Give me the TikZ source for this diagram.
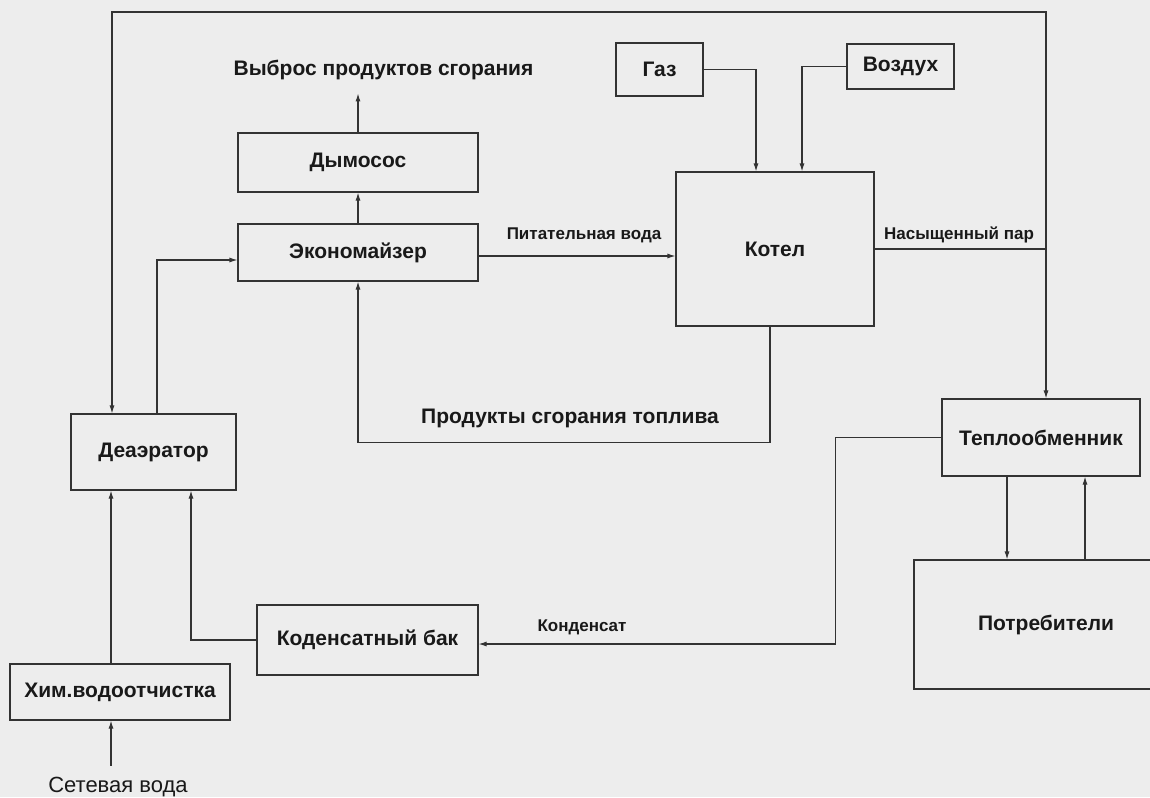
\documentclass[tikz,border=0pt]{standalone}
\usepackage{fontspec}
\setmainfont{Liberation Sans}
\usetikzlibrary{arrows.meta}
\begin{document}
\begin{tikzpicture}[x=1pt,y=-1pt,line width=1.1pt,color=black!80,>={Latex[length=8pt,width=5pt]},
  blk/.style={draw,inner sep=0pt,text=black!90,font=\fontsize{21}{25}\selectfont\bfseries},
  lbl/.style={inner sep=0pt,text=black!90,font=\fontsize{21}{25}\selectfont\bfseries},
  sm/.style={inner sep=0pt,text=black!90,font=\fontsize{17}{20}\selectfont\bfseries}]
\useasboundingbox[fill=black!7] (0,0) rectangle (1150,797);
\clip (0,0) rectangle (1150,797);
% boxes
\node[blk,minimum width=87pt,minimum height=53pt] (gas) at (659.5,69.5) {Газ};
\node[blk,minimum width=107pt,minimum height=45pt] (air) at (900.5,66.5) {Воздух};
\node[blk,minimum width=240pt,minimum height=59pt] (dym) at (358,162.5) {Дымосос};
\node[blk,minimum width=240pt,minimum height=57pt] (eco) at (358,252.5) {Экономайзер};
\node[blk,minimum width=198pt,minimum height=154pt] (kot) at (775,249) {Котел};
\node[blk,minimum width=165pt,minimum height=76pt] (dea) at (153.5,452) {Деаэратор};
\node[blk,minimum width=198pt,minimum height=77pt] (teplo) at (1041,437.5) {Теплообменник};
\node[blk,minimum width=221pt,minimum height=70pt] (bak) at (367.5,640) {Коденсатный бак};
\node[blk,minimum width=264pt,minimum height=129pt] (potr) at (1046,624.5) {Потребители};
\node[blk,minimum width=220pt,minimum height=56pt] (him) at (120,692) {Хим.водоотчистка};
% texts
\node[lbl] (vybros) at (383.5,70) {Выброс продуктов сгорания};
\node[lbl] (prod) at (570,418) {Продукты сгорания топлива};
\node[inner sep=0pt,text=black!90,font=\fontsize{22}{26}\selectfont] (setev) at (118,787) {Сетевая вода};
\node[sm] (pit) at (584,235) {Питательная вода};
\node[sm] (nas) at (959,235) {Насыщенный пар};
\node[sm] (kond) at (582,627) {Конденсат};
\coordinate (j) at (1046,249);
\coordinate (top) at (0,12);
% lines
\draw[->,shorten >=13pt] (dym.north) -- (dym.north |- vybros.south);
\draw[->] (eco.north) -- (dym.south);
\draw[->] (gas.east) -| ([xshift=-19pt]kot.north);
\draw[->] (air.west) -| ([xshift=27pt]kot.north);
\draw[->] ([yshift=-3.5pt]eco.east) -- ([yshift=-3.5pt]eco.east -| kot.west);
\draw (kot.east) -- (j);
\draw[->] (j) -- (j |- teplo.north);
\draw[->] (j) -- (j |- top) -| ([xshift=-41.5pt]dea.north);
\draw[->] ([xshift=3.5pt]dea.north) |- ([yshift=-7.5pt]eco.west);
\draw[->] ([xshift=-5pt]kot.south) -- ++(0,116) -| (eco.south);
\draw[->] ([xshift=-9pt]him.north) -- ([xshift=-9pt]him.north |- dea.south);
\draw[->] ([xshift=-7pt,yshift=11pt]setev.north) -- ([xshift=-9pt]him.south);
\draw[->] (bak.west) -| ([xshift=37.5pt]dea.south);
\draw[->] (teplo.west) -- ++(-106,0) |- ([yshift=-4pt]bak.east);
\draw[->] ([xshift=-34pt]teplo.south) -- ([xshift=-34pt]teplo.south |- potr.north);
\draw[->] ([xshift=44pt]teplo.south |- potr.north) -- ([xshift=44pt]teplo.south);
\end{tikzpicture}
\end{document}
